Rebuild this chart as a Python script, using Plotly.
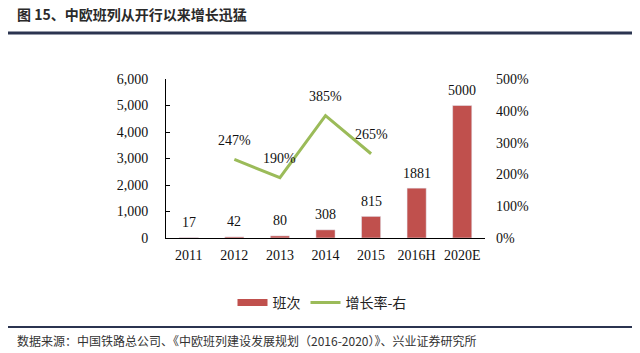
import plotly.graph_objects as go

categories = ["2011", "2012", "2013", "2014", "2015", "2016H", "2020E"]
trips = [17, 42, 80, 308, 815, 1881, 5000]
growth_cats = ["2012", "2013", "2014", "2015"]
growth = [247, 190, 385, 265]
left_ticks = [0, 1000, 2000, 3000, 4000, 5000, 6000]
right_ticks = [0, 100, 200, 300, 400, 500]

BAR = "#C0504D"
LINE = "#9BBB59"
SERIF = "Liberation Serif, Times New Roman, serif"
CJK = "Noto Sans CJK SC, sans-serif"

xpos = list(range(len(categories)))
gpos = [categories.index(c) for c in growth_cats]

fig = go.Figure()
fig.add_trace(go.Bar(x=xpos, y=trips, marker_color=BAR, width=0.42,
                     showlegend=False, yaxis="y", xaxis="x"))
fig.add_trace(go.Scatter(x=gpos, y=growth, mode="lines",
                         line=dict(color=LINE, width=3), showlegend=False,
                         yaxis="y2", xaxis="x"))
# legend entries
fig.add_trace(go.Scatter(x=[None], y=[None], mode="lines", name="班次",
                         line=dict(color=BAR, width=7)))
fig.add_trace(go.Scatter(x=[None], y=[None], mode="lines", name="增长率-右",
                         line=dict(color=LINE, width=3)))

annotations = []
for i, v in zip(xpos, trips):
    annotations.append(dict(x=i, y=v, xref="x", yref="y", text=str(v), showarrow=False,
                            yanchor="middle", yshift=15,
                            font=dict(family=SERIF, size=14, color="#111")))
for i, v in zip(gpos, growth):
    annotations.append(dict(x=i, y=v, xref="x", yref="y2", text=f"{v}%", showarrow=False,
                            yanchor="middle", yshift=19,
                            font=dict(family=SERIF, size=14, color="#111")))

W0, W1 = 166, 485
T0, B0 = 79, 238
def px(x):
    return (x - W0) / (W1 - W0)
def py(y):
    return (B0 - y) / (B0 - T0)

annotations.append(dict(x=px(15), y=py(14), xref="paper", yref="paper", showarrow=False,
                        xanchor="left", yanchor="middle",
                        text="<b>图 15、中欧班列从开行以来增长迅猛</b>",
                        font=dict(family=CJK, size=14, color="#2a2a2a")))
annotations.append(dict(x=px(15), y=py(340), xref="paper", yref="paper", showarrow=False,
                        xanchor="left", yanchor="middle",
                        text="数据来源：中国铁路总公司、《中欧班列建设发展规划（2016-2020）》、兴业证券研究所",
                        font=dict(family=CJK, size=12, color="#333")))

shapes = [
    dict(type="line", xref="paper", yref="paper", x0=px(8), x1=px(632), y0=py(33), y1=py(33),
         line=dict(color="#2B3450", width=3)),
    dict(type="line", xref="paper", yref="paper", x0=px(8), x1=px(632), y0=py(327), y1=py(327),
         line=dict(color="#2B3450", width=2)),
]

fig.update_layout(
    width=640, height=353,
    margin=dict(l=W0, r=640 - W1, t=T0, b=353 - B0),
    paper_bgcolor="white", plot_bgcolor="white",
    annotations=annotations, shapes=shapes,
    xaxis=dict(range=[-0.5, len(categories) - 0.5], tickvals=xpos, ticktext=categories,
               showline=True, linecolor="black", linewidth=1, ticks="",
               showgrid=False, zeroline=False,
               tickfont=dict(family=SERIF, size=14, color="#111"),
               ticklabelstandoff=4),
    yaxis=dict(range=[0, 6000], tickvals=left_ticks,
               ticktext=[f"{v:,}" for v in left_ticks],
               showline=True, linecolor="black", linewidth=1,
               ticks="inside", ticklen=4, tickcolor="black", showgrid=False, zeroline=False,
               tickfont=dict(family=SERIF, size=14, color="#111"), ticklabelstandoff=14),
    yaxis2=dict(range=[0, 500], tickvals=right_ticks,
                ticktext=[f"{v}%" for v in right_ticks], overlaying="y", anchor="x",
                side="right", showline=False, showgrid=False, zeroline=False, ticks="",
                tickfont=dict(family=SERIF, size=14, color="#111"), ticklabelstandoff=10),
    legend=dict(orientation="h", x=px(322), xanchor="center", y=py(303), yanchor="middle",
                font=dict(family=CJK, size=14, color="#222"),
                bgcolor="rgba(0,0,0,0)"),
)

fig.write_html("out.html")
